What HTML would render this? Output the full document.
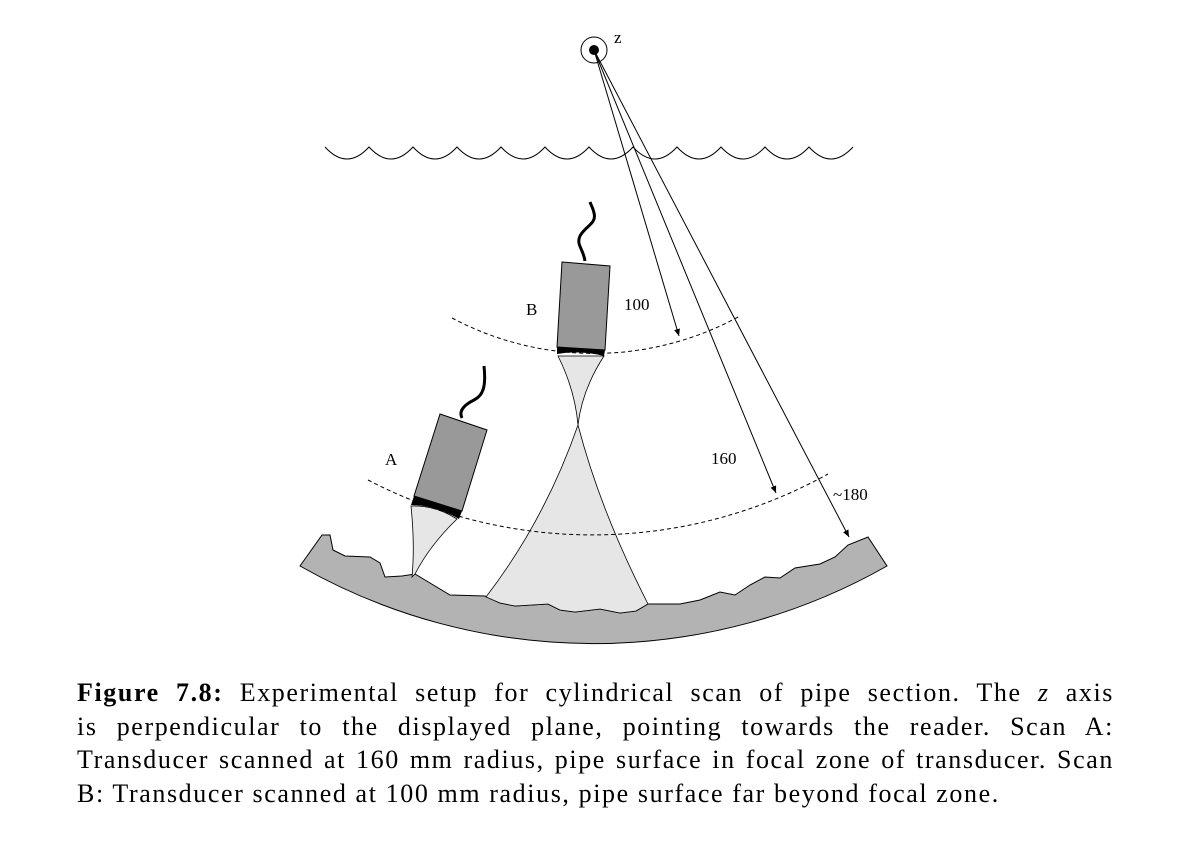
<!DOCTYPE html>
<html><head><meta charset="utf-8"><style>
html,body{margin:0;padding:0;background:#fff;}
#wrap{position:relative;width:1188px;height:844px;overflow:hidden;}
svg{position:absolute;left:0;top:0;}
#cap{position:absolute;left:77px;top:676px;width:1037px;font-family:"Liberation Serif",serif;font-size:26px;letter-spacing:1.6px;line-height:33.7px;color:#000;}
.ln{text-align:justify;text-align-last:justify;white-space:nowrap;}
.last{text-align:left;text-align-last:left;white-space:nowrap;}
</style></head><body>
<div id="wrap">
<svg width="1188" height="680" viewBox="0 0 1188 680">
 <defs><marker id="ah" markerWidth="8" markerHeight="8" refX="7" refY="4" orient="auto"><path d="M0,1 L7,4 L0,7 Z" fill="#000"/></marker></defs>
 <g>
  <circle cx="594" cy="50" r="13" fill="none" stroke="#000" stroke-width="1"/>
  <circle cx="594" cy="50" r="5" fill="#000"/>
  <text x="614" y="43" font-family="Liberation Serif, serif" font-size="17">z</text>
 </g>
 <path fill="none" stroke="#000" stroke-width="1" d="M325,147 q22,24 44,0 q22,24 44,0 q22,24 44,0 q22,24 44,0 q22,24 44,0 q22,24 44,0 q22,24 44,0 q22,24 44,0 q22,24 44,0 q22,24 44,0 q22,24 44,0 q22,24 44,0"/>
 <path fill="#b3b3b3" stroke="#000" stroke-width="1" d="M300,566 L322,535 L330,535 L333,550 L345,556 L370,557 L380,563 L385,577 L402,576 L415,574 L430,583 L450,595 L485,596 L500,603 L515,606 L548,604 L560,610 L575,612 L600,609 L620,613 L636,611 L648,604 L680,604 L700,600 L720,592 L735,595 L750,585 L765,577 L780,578 L795,568 L820,564 L835,557 L848,545 L868,537 L887,566 A594,594 0 0 1 300,566 Z"/>
 <path fill="#e6e6e6" stroke="#000" stroke-width="0.8" d="M558,356 Q575,390 578,425 Q545,520 486,597 L500,603 L515,606 L548,604 L560,610 L575,612 L600,609 L620,613 L636,611 L648,604 Q600,510 578,425 Q582,390 604,356 Z"/>
 <path fill="#e6e6e6" stroke="#000" stroke-width="0.8" d="M411,506 Q415,545 412,577 L415,574 Q430,545 457,519 Q435,505 411,506 Z"/>
 <path fill="none" stroke="#000" stroke-dasharray="4,3" d="M452,318 A303,303 0 0 0 740,316"/>
 <path fill="none" stroke="#000" stroke-dasharray="4,3" d="M368,480 A486,486 0 0 0 828,474"/>
 <g stroke="#000" stroke-width="1">
  <line x1="594" y1="50" x2="679" y2="336" marker-end="url(#ah)"/>
  <line x1="594" y1="50" x2="776" y2="493" marker-end="url(#ah)"/>
  <line x1="594" y1="50" x2="849" y2="537" marker-end="url(#ah)"/>
 </g>
 <g>
  <path d="M585,261 C583,248 576,245 580,236 C585,226 597,224 594,213 C593,208 591,205 590,202" fill="none" stroke="#000" stroke-width="3"/>
  <polygon points="562,262 610,266 605,350 557,347" fill="#999" stroke="#000" stroke-width="1"/>
  <path d="M557,347 L605,350 L604,356 Q580,350 557,354 Z" fill="#000"/>
 </g>
 <g>
  <path d="M462,418 C458,410 466,404 474,400 C484,395 486,385 484,366" fill="none" stroke="#000" stroke-width="3"/>
  <polygon points="440,414 487,430 462,511 414,496" fill="#999" stroke="#000" stroke-width="1"/>
  <path d="M414,496 L462,511 L459,519 Q435,505 411,505 Z" fill="#000"/>
 </g>
 <g font-family="Liberation Serif, serif" font-size="17">
  <text x="526" y="315">B</text>
  <text x="385" y="465">A</text>
  <text x="624" y="310">100</text>
  <text x="711" y="464">160</text>
  <text x="833" y="500">~180</text>
 </g>
</svg>
<div id="cap">
 <div class="ln"><b>Figure 7.8:</b> Experimental setup for cylindrical scan of pipe section. The <i>z</i> axis</div>
 <div class="ln">is perpendicular to the displayed plane, pointing towards the reader. Scan A:</div>
 <div class="ln">Transducer scanned at 160 mm radius, pipe surface in focal zone of transducer. Scan</div>
 <div class="last">B: Transducer scanned at 100 mm radius, pipe surface far beyond focal zone.</div>
</div>
</div>
</body></html>
